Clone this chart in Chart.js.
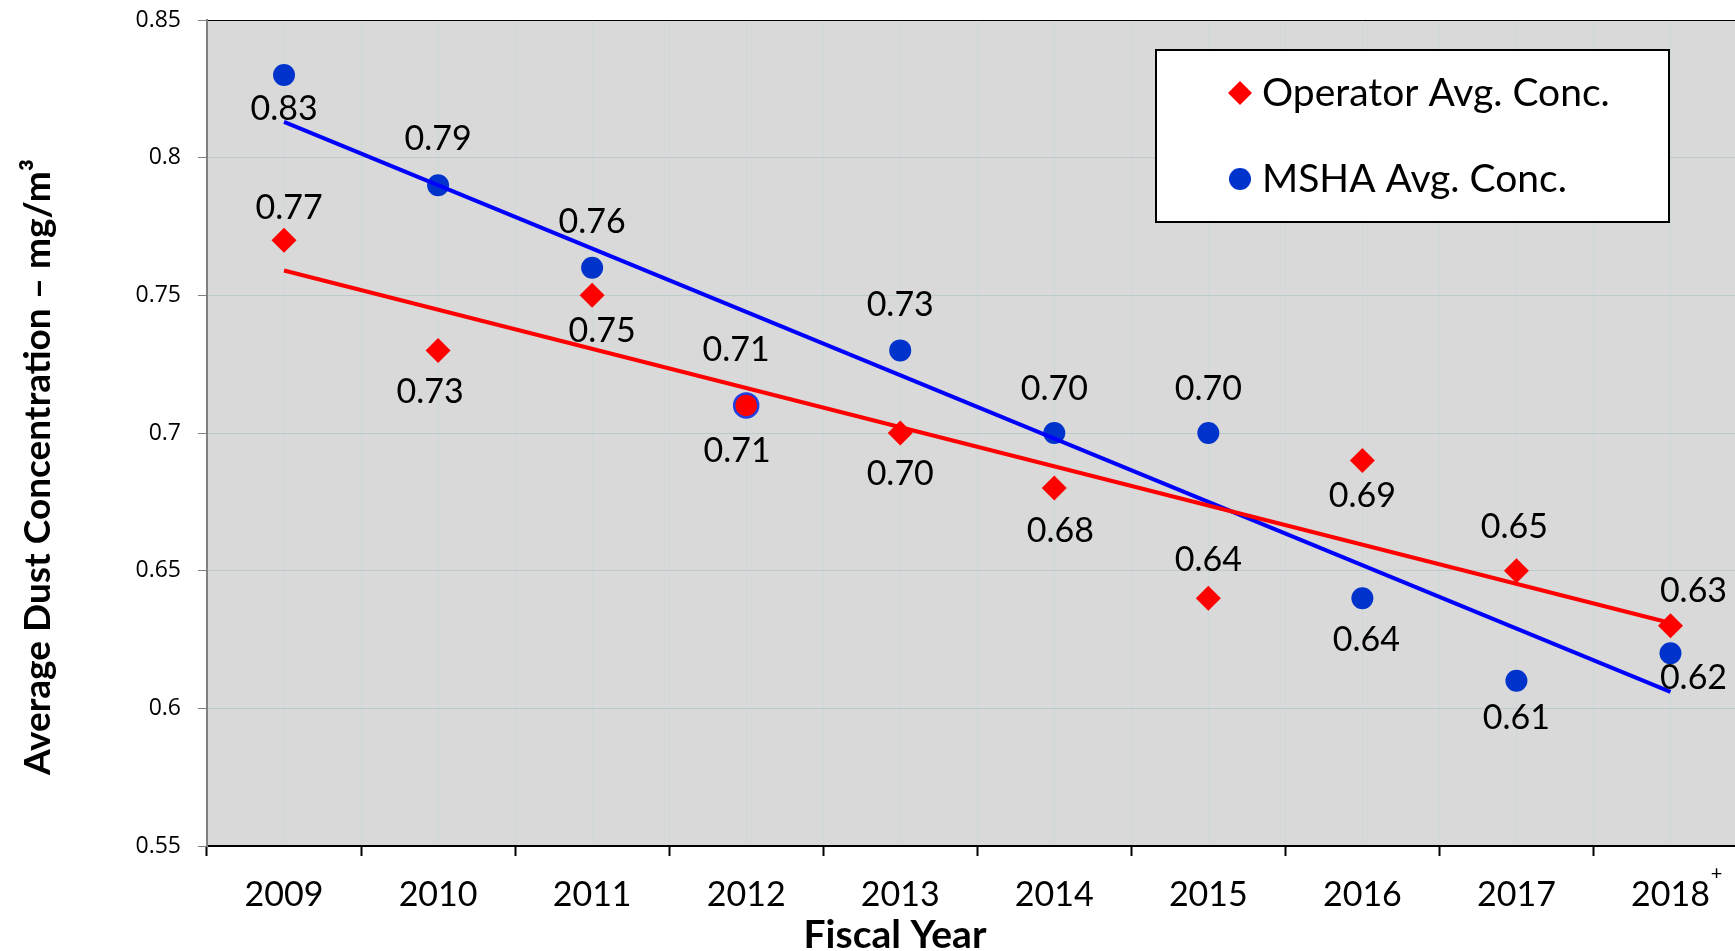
<!DOCTYPE html>
<html>
<head>
<meta charset="utf-8">
<script src="https://cdn.jsdelivr.net/npm/chart.js@4.4.1/dist/chart.umd.min.js"></script>
<style>
  html, body { margin: 0; padding: 0; background: #fff; overflow: hidden; }
  canvas { position: absolute; left: 0; top: 0; }
</style>
</head>
<body>
<canvas id="chartDust" width="1760" height="951"></canvas>
<script>
const years = ['2009', '2010', '2011', '2012', '2013', '2014', '2015', '2016', '2017', '2018'];
const operatorAvg = [0.77, 0.73, 0.75, 0.71, 0.70, 0.68, 0.64, 0.69, 0.65, 0.63];
const mshaAvg     = [0.83, 0.79, 0.76, 0.71, 0.73, 0.70, 0.70, 0.64, 0.61, 0.62];
// trend lines (start / end)
const trendYears    = ['2009', '2018'];
const operatorTrend = [0.759, 0.631];
const mshaTrend     = [0.813, 0.606];

const yTitle = 'Average Dust Concentration \u2013 mg/m\u00b3';
const xTitle = 'Fiscal Year';

const RED = '#ff0000';
const BLUE_LINE = '#0000ff';
const BLUE_DOT = '#0033cc';

// label offsets (px) from each point, same order as years
const operatorLabelPos = [[5,-32],[-8,42],[10,36],[-9,46],[0,41],[6,43],[0,-38],[0,35],[-2,-44],[23,-35]];
const mshaLabelPos     = [[0,34],[0,-46],[0,-46],[-10,-55],[0,-45],[0,-44],[0,-44],[4,42],[0,37],[23,25]];

const plotBackground = {
    id: 'plotBackground',
    beforeDraw(chart) {
        const { ctx, chartArea: a } = chart;
        ctx.save();
        ctx.fillStyle = '#d9d9d9';
        ctx.fillRect(a.left, a.top, a.right - a.left, a.bottom - a.top);
        ctx.restore();
    }
};

const pointLabels = {
    id: 'pointLabels',
    afterDatasetsDraw(chart) {
        const ctx = chart.ctx;
        ctx.save();
        ctx.font = '34px Lato';
        ctx.fillStyle = '#000';
        ctx.textAlign = 'center';
        ctx.textBaseline = 'middle';
        [[2, operatorAvg, operatorLabelPos], [3, mshaAvg, mshaLabelPos]].forEach(([i, vals, pos]) => {
            chart.getDatasetMeta(i).data.forEach((pt, j) => {
                ctx.fillText(vals[j].toFixed(2), pt.x + pos[j][0], pt.y + pos[j][1]);
            });
        });
        ctx.restore();
    }
};

const titlesAndLegend = {
    id: 'titlesAndLegend',
    afterDraw(chart) {
        const ctx = chart.ctx;
        ctx.save();
        // axis titles
        ctx.fillStyle = '#000';
        ctx.textAlign = 'center';
        ctx.textBaseline = 'middle';
        ctx.font = 'bold 37px Lato';
        ctx.translate(38, 467);
        ctx.rotate(-Math.PI / 2);
        ctx.fillText(yTitle, 0, 0);
        ctx.setTransform(1, 0, 0, 1, 0, 0);
        ctx.font = 'bold 39px Lato';
        ctx.fillText(xTitle, 895, 935);
        // footnote mark on last year
        const xs = chart.scales.x;
        ctx.font = '20px Lato';
        ctx.fillText('+', xs.getPixelForValue(years.length - 1) + 46, 874);

        // legend box
        ctx.fillStyle = '#fff';
        ctx.fillRect(1156, 50, 513, 172);
        ctx.strokeStyle = '#000';
        ctx.lineWidth = 2;
        ctx.strokeRect(1156, 50, 513, 172);

        const ds = chart.data.datasets;
        const rows = [[ds[2], 'rectRot', 12, RED, 93], [ds[3], 'circle', 11, BLUE_DOT, 179]];
        rows.forEach(([d, style, r, color, y]) => {
            ctx.fillStyle = color;
            ctx.beginPath();
            if (style === 'circle') {
                ctx.arc(1240, y, r, 0, Math.PI * 2);
            } else {
                ctx.moveTo(1240, y - r); ctx.lineTo(1240 + r, y);
                ctx.lineTo(1240, y + r); ctx.lineTo(1240 - r, y);
                ctx.closePath();
            }
            ctx.fill();
            ctx.fillStyle = '#000';
            ctx.font = '39px Lato';
            ctx.textAlign = 'left';
            ctx.fillText(d.label, 1262, y);
        });
        ctx.restore();
    }
};

const isMarked = c => c.dataIndex === 3;

new Chart(document.getElementById('chartDust'), {
    type: 'line',
    data: {
        labels: years,
        datasets: [
            {
                label: 'Operator trend',
                data: trendYears.map((y, i) => ({ x: y, y: operatorTrend[i] })),
                borderColor: RED,
                borderWidth: 4,
                pointRadius: 0,
                order: 0
            },
            {
                label: 'MSHA trend',
                data: trendYears.map((y, i) => ({ x: y, y: mshaTrend[i] })),
                borderColor: BLUE_LINE,
                borderWidth: 4,
                pointRadius: 0,
                order: 1
            },
            {
                label: 'Operator Avg. Conc.',
                data: operatorAvg,
                showLine: false,
                pointStyle: c => isMarked(c) ? 'circle' : 'rectRot',
                pointRadius: c => isMarked(c) ? 12 : 12.5,
                pointBackgroundColor: RED,
                pointBorderColor: c => isMarked(c) ? '#1f3fe0' : RED,
                pointBorderWidth: c => isMarked(c) ? 2.5 : 0,
                order: 2
            },
            {
                label: 'MSHA Avg. Conc.',
                data: mshaAvg,
                showLine: false,
                pointStyle: 'circle',
                pointRadius: 11,
                pointBackgroundColor: BLUE_DOT,
                pointBorderWidth: 0,
                order: 3
            }
        ]
    },
    options: {
        responsive: false,
        animation: false,
        events: [],
        layout: { padding: { top: 20, right: 12, left: 0, bottom: 0 } },
        plugins: { legend: { display: false }, tooltip: { enabled: false } },
        scales: {
            x: {
                type: 'category',
                offset: true,
                grid: { offset: true, color: '#cdd8db', tickColor: '#000', tickLength: 10, tickWidth: 2 },
                border: { color: '#000', width: 2 },
                ticks: { color: '#000', font: { family: 'Lato', size: 34 }, padding: 19, maxRotation: 0, autoSkip: false },
                afterFit: s => { s.height = 105; }
            },
            x2: {
                type: 'category',
                labels: years,
                position: 'bottom',
                offset: true,
                grid: { offset: false, color: '#cdd8db', drawTicks: false },
                border: { display: false },
                ticks: { display: false },
                afterFit: s => { s.height = 0; }
            },
            y: {
                min: 0.55,
                max: 0.85,
                ticks: {
                    stepSize: 0.05,
                    color: '#000',
                    font: { family: 'Open Sans', size: 23 },
                    padding: 17,
                    callback: v => String(+v.toFixed(2))
                },
                grid: {
                    color: c => (c.tick && c.tick.value > 0.84) ? '#000' : '#bccacd',
                    tickColor: '#808080',
                    tickLength: 9
                },
                border: { color: '#808080', width: 2 },
                afterFit: s => { s.width = 207; s.paddingTop = 0; s.paddingBottom = 0; }
            }
        }
    },
    plugins: [plotBackground, pointLabels, titlesAndLegend]
});
</script>
</body>
</html>
